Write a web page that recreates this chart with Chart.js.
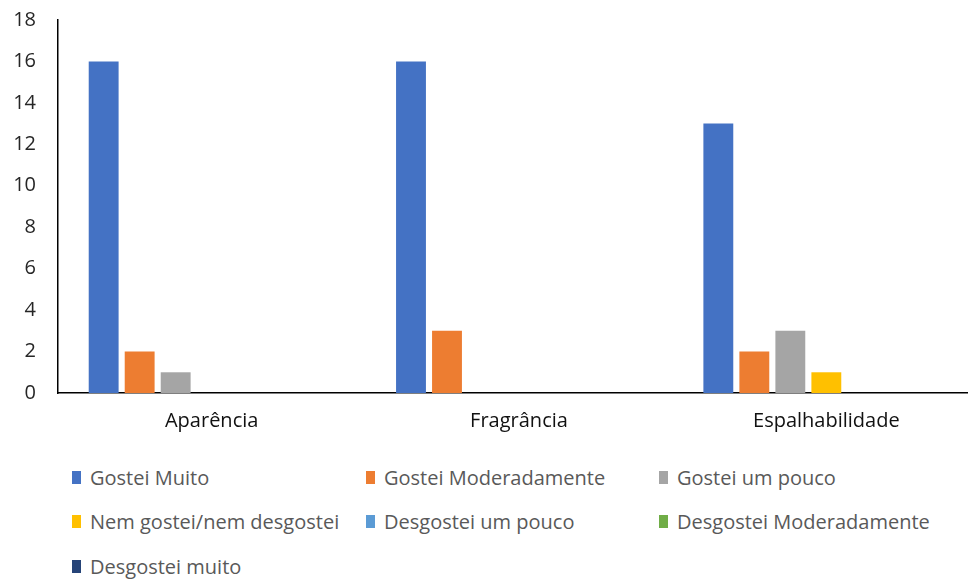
<!DOCTYPE html>
<html>
<head>
<meta charset="utf-8">
<script src="https://cdn.jsdelivr.net/npm/chart.js@4.4.1/dist/chart.umd.min.js"></script>
<style>
  html, body { margin: 0; padding: 0; background: #fff; overflow: hidden; }
  body { width: 968px; height: 581px; position: relative; }
  #wrap { position: absolute; left: 0; top: -14px; width: 980px; height: 459px; }
  #legend { position: absolute; left: 72px; top: 464px; width: 900px; }
  .item { position: absolute; display: flex; align-items: center; white-space: nowrap;
          font-family: "Open Sans", sans-serif; font-size: 20px; color: #595959; height: 26px; }
  .box { width: 9px; height: 13px; margin-right: 9px; }
</style>
</head>
<body>
<div id="wrap"><canvas id="chart"></canvas></div>
<div id="legend"></div>
<script>
const categories = ['Aparência', 'Fragrância', 'Espalhabilidade'];
const seriesNames = [
  'Gostei Muito', 'Gostei Moderadamente', 'Gostei um pouco',
  'Nem gostei/nem desgostei', 'Desgostei um pouco', 'Desgostei Moderadamente',
  'Desgostei muito'
];
const gosteiMuito = [16, 16, 13];
const gosteiModeradamente = [2, 3, 2];
const gosteiUmPouco = [1, 0, 3];
const nemGosteiNemDesgostei = [0, 0, 1];
const desgosteiUmPouco = [0, 0, 0];
const desgosteiModeradamente = [0, 0, 0];
const desgosteiMuito = [0, 0, 0];
const yTicks = [0, 2, 4, 6, 8, 10, 12, 14, 16, 18];

const seriesValues = [gosteiMuito, gosteiModeradamente, gosteiUmPouco,
  nemGosteiNemDesgostei, desgosteiUmPouco, desgosteiModeradamente, desgosteiMuito];
const colors = ['#4472C4', '#ED7D31', '#A5A5A5', '#FFC000', '#5B9BD5', '#70AD47', '#264478'];

const ctx = document.getElementById('chart').getContext('2d');
const chart = new Chart(ctx, {
  type: 'bar',
  data: {
    labels: categories,
    datasets: seriesNames.map((name, i) => ({
      label: name,
      data: seriesValues[i],
      backgroundColor: colors[i],
      borderWidth: 0,
      categoryPercentage: 0.82,
      barPercentage: 0.83
    }))
  },
  options: {
    responsive: true,
    maintainAspectRatio: false,
    animation: false,
    layout: { padding: { top: 6, right: 0, bottom: 0, left: 0 } },
    plugins: { legend: { display: false }, tooltip: { enabled: false } },
    scales: {
      x: {
        grid: { display: false, drawTicks: false },
        border: { color: '#000', width: 1.5 },
        ticks: { color: '#111', padding: 16, font: { family: 'Open Sans', size: 20 } },
        afterFit: (s) => { s.height = 52; }
      },
      y: {
        min: 0,
        max: 18,
        afterBuildTicks: (s) => { s.ticks = yTicks.map(v => ({ value: v })); },
        grid: { display: false, drawTicks: false },
        border: { color: '#000', width: 1.5 },
        ticks: { color: '#262626', padding: 22, font: { family: 'Open Sans', size: 20 } },
        afterFit: (s) => { s.width = 58; }
      }
    }
  }
});

// legend laid out in three columns under the chart
const legend = document.getElementById('legend');
const colX = [0, 294, 587];
const rowY = [0, 44, 89];
chart.data.datasets.forEach((ds, i) => {
  const item = document.createElement('div');
  item.className = 'item';
  item.style.left = colX[i % 3] + 'px';
  item.style.top = rowY[Math.floor(i / 3)] + 'px';
  const box = document.createElement('span');
  box.className = 'box';
  box.style.background = ds.backgroundColor;
  item.appendChild(box);
  item.appendChild(document.createTextNode(ds.label));
  legend.appendChild(item);
});
</script>
</body>
</html>
